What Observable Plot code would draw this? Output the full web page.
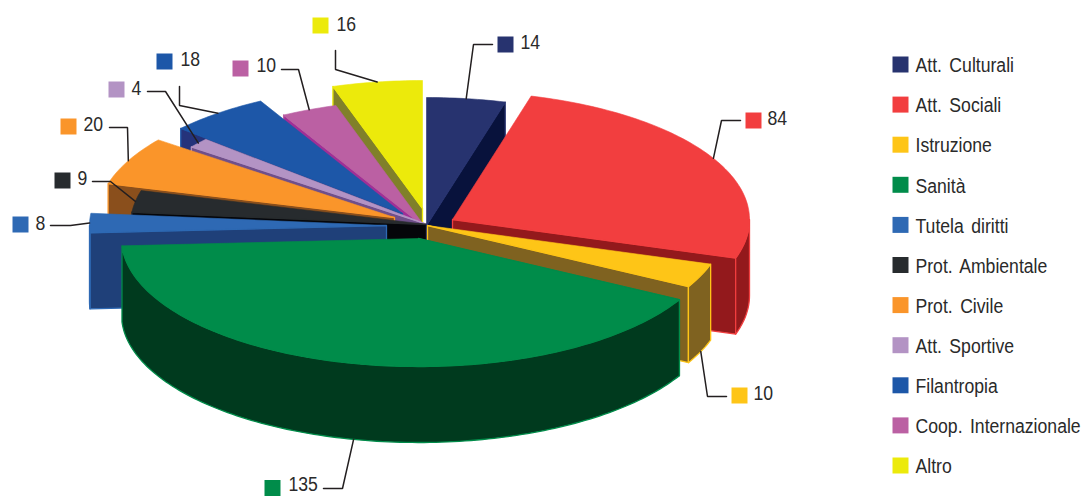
<!DOCTYPE html>
<html>
<head>
<meta charset="utf-8">
<script src="https://cdn.jsdelivr.net/npm/d3@7"></script>
<script src="https://cdn.jsdelivr.net/npm/@observablehq/plot@0.6"></script>
<style>
html,body{margin:0;padding:0;background:#fff}
svg{display:block}
</style>
</head>
<body>
<div id="chart"></div>
<script>
// Data
const categories = ["Att. Culturali","Att. Sociali","Istruzione","Sanità","Tutela diritti","Prot. Ambientale","Prot. Civile","Att. Sportive","Filantropia","Coop. Internazionale","Altro"];
const values = [14,84,10,135,8,9,20,4,18,10,16];
// Styles
const topColors = ["#27336f","#f23e3f","#fec517","#008c4a","#2e69b4","#272b2e","#fa952a","#b393c4","#1d57a8","#bb60a3","#ecea0b"];
const sideColors = ["#08123c","#93191c","#7f6220","#003a1e","#1f4079","#05060a","#8a4f1c","#6f4f8a","#25337b","#a02f96","#80802a"];
// Layout: where each slice's tip was pulled to, the callouts, the draw order
const apexX = [426,452,427,418,386,427,394,427,402,425,422];
const apexY = [225,219,225,238,225,224,217,224,213,227,208];
const drawOrder = [10,9,8,7,6,5,4,0,1,2,3];
const RX = 297, RY = 128, DEPTH = 76;
const elbowX = [473,721,707,342,70,110,127,165,179,298,335];
const elbowY = [44,120,396,488,225,181,127,91,105,69,69];
const tailX  = [492,740,726,323,50,92,109,147,179,281,335];
const tailY  = [44,120,396,488,225,181,127,91,86,69,50];
const keyX   = [505,753,739,272,20,62,68,116,164,240,320];
const keyY   = [44,120,395,487.5,224,180,126,89,61,68,25];
const numX   = [520,767,753,288,35,77,83,131,180,256,336];
const numY   = [42,118,393,484,223,178,124,88,59,65,24];
const legendKeyX = 900, legendTextX = 915, legendTop = 64, legendStep = 40.1;

// Geometry derived from the values
const total = d3.sum(values);
const cum = d3.cumsum(values);
const angle = v => v / total * 2 * Math.PI;
const a0s = values.map((v, i) => angle(cum[i] - v));
const a1s = values.map((v, i) => angle(cum[i]));
const rim = (i, a, drop = 0) => [apexX[i] + RX * Math.sin(a), apexY[i] - RY * Math.cos(a) + drop];
const arc = (i, a, b, drop = 0) => {
  const n = Math.max(2, Math.ceil((b - a) / 0.02));
  return d3.range(n + 1).map(k => rim(i, a + (b - a) * k / n, drop));
};
const polys = [];
const pushPoly = (pts, fill, stroke, sw) => {
  const id = polys.length ? polys[polys.length - 1].id + 1 : 0;
  [...pts, pts[0]].forEach(p => polys.push({id, x: p[0], y: p[1], fill, stroke, sw}));
};
for (const i of drawOrder) {
  const ax = apexX[i], ay = apexY[i], a0 = a0s[i], a1 = a1s[i];
  const top = topColors[i], side = sideColors[i];
  const mid = (a0 + a1) / 2;
  // the cut face that looks towards the viewer
  const a = Math.sin(mid) > 0 ? a1 : a0;
  pushPoly([[ax, ay], rim(i, a), rim(i, a, DEPTH), [ax, ay + DEPTH]], side, top, 1.3);
  // outer wall (only the part facing the viewer)
  const w0 = Math.max(a0, Math.PI / 2), w1 = Math.min(a1, 3 * Math.PI / 2);
  if (w1 > w0) {
    pushPoly([...arc(i, w0, w1), ...arc(i, w0, w1, DEPTH).reverse()], side, top, 1.3);
  }
  // top face
  pushPoly([[ax, ay], ...arc(i, a0, a1)], top, top, 0.6);
}

const leaders = [];
categories.forEach((c, i) => {
  const mid = (a0s[i] + a1s[i]) / 2;
  const start = rim(i, mid, Math.cos(mid) < 0 ? DEPTH : 0);
  [start, [elbowX[i], elbowY[i]], [tailX[i], tailY[i]]].forEach(p => leaders.push({i, x: p[0], y: p[1]}));
});
const callouts = categories.map((c, i) => ({i, value: values[i], kx: keyX[i], ky: keyY[i], nx: numX[i], ny: numY[i], color: topColors[i]}));
const legend = categories.map((c, i) => ({label: c, color: topColors[i], y: legendTop + i * legendStep}));

const FONT = "'Liberation Sans',Arial,sans-serif";
const keyR = 16 / Math.sqrt(Math.PI);

const chart = Plot.plot({
  width: 1086,
  height: 496,
  margin: 0,
  x: {type: "linear", domain: [0, 1086], range: [0, 1086], axis: null},
  y: {type: "linear", domain: [0, 496], range: [0, 496], axis: null},
  style: {background: "#fff", wordSpacing: "3px"},
  marks: [
    Plot.line(polys, {x: "x", y: "y", z: "id", fill: d => d.fill, stroke: d => d.stroke, strokeWidth: d => d.sw, strokeLinejoin: "round"}),
    Plot.line(leaders, {x: "x", y: "y", z: "i", stroke: "#231f20", strokeWidth: 1.5, strokeLinejoin: "miter"}),
    Plot.dot(callouts, {x: "kx", y: "ky", symbol: "square", r: keyR, fill: d => d.color, stroke: null}),
    Plot.text(callouts, {x: "nx", y: "ny", text: d => String(d.value), textAnchor: "start", fontSize: 21, fontFamily: FONT, fill: "#2a2a2a"}),
    Plot.dot(legend, {x: () => legendKeyX, y: "y", symbol: "square", r: keyR, fill: d => d.color, stroke: null}),
    Plot.text(legend, {x: () => legendTextX, y: d => d.y + 1, text: "label", textAnchor: "start", fontSize: 21, fontFamily: FONT, fill: "#2a2a2a"})
  ]
});
document.getElementById("chart").append(chart);
// The reference's type is condensed: narrow each real text about its start point
const CONDENSE = 0.84;
chart.querySelectorAll("text").forEach(t => {
  t.setAttribute("transform", `${t.getAttribute("transform") || ""} scale(${CONDENSE},1)`.trim());
});
</script>
</body>
</html>
